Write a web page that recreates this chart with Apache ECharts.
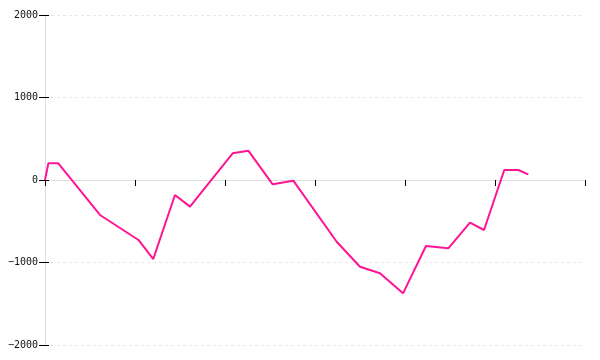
<!DOCTYPE html>
<html>
<head>
<meta charset="utf-8">
<script src="https://cdn.jsdelivr.net/npm/echarts@6/dist/echarts.min.js"></script>
<style>
html,body{margin:0;padding:0;background:#fff;}
#c{width:600px;height:360px;}
</style>
</head>
<body>
<div id="c"></div>
<script>
const xValues = [0, 0.037, 0.148, 0.611, 1.039, 1.203, 1.444, 1.611, 2.085, 2.259, 2.530, 2.759, 3.241, 3.5, 3.722, 3.978, 4.233, 4.481, 4.722, 4.878, 5.103, 5.259, 5.370];
const yValues = [0, 202, 202, -424, -727, -958, -182, -323, 323, 355, -52, -8, -748, -1051, -1131, -1374, -800, -828, -517, -606, 121, 121, 69];
const yTicks = [-2000, -1000, 0, 1000, 2000];

const chart = echarts.init(document.getElementById('c'), null, {renderer: 'canvas'});
const labelFont = {fontFamily: 'DejaVu Sans Mono', fontSize: 10, color: '#111'};
chart.setOption({
  animation: false,
  backgroundColor: '#fff',
  grid: {left: 45, right: 15, top: 15, bottom: 15, containLabel: false},
  xAxis: [
    {
      type: 'value', min: 0, max: 6, interval: 1,
      axisLine: {show: true, onZero: true, lineStyle: {color: '#ddd', width: 1}},
      axisTick: {show: true, inside: false, length: 6, lineStyle: {color: '#000', width: 1}},
      axisLabel: {show: false},
      splitLine: {show: false}
    },
    {
      type: 'value', min: 0, max: 6, interval: 1,
      axisLine: {show: false, onZero: true},
      axisTick: {show: true, inside: true, length: 3, lineStyle: {color: '#000', width: 1}},
      axisLabel: {show: false},
      splitLine: {show: false}
    }
  ],
  yAxis: [
    {
      type: 'value', min: yTicks[0], max: yTicks[yTicks.length - 1], interval: 1000,
      position: 'left',
      axisLine: {show: true, onZero: false, lineStyle: {color: '#ddd', width: 1}},
      axisTick: {show: true, inside: false, length: 6, lineStyle: {color: '#000', width: 1}},
      axisLabel: Object.assign({show: true, margin: 7, formatter: v => String(v).replace('-', '\u2212')}, labelFont),
      splitLine: {show: true, lineStyle: {color: '#e8e8e8', width: 1, type: [3, 3]}}
    },
    {
      type: 'value', min: yTicks[0], max: yTicks[yTicks.length - 1], interval: 1000,
      position: 'left', offset: 0,
      axisLine: {show: false, onZero: false},
      axisTick: {show: true, inside: true, length: 4, lineStyle: {color: '#000', width: 1}},
      axisLabel: {show: false},
      splitLine: {show: false}
    }
  ],
  series: [{
    type: 'line',
    xAxisIndex: 0, yAxisIndex: 0,
    data: xValues.map((x, i) => [x, yValues[i]]),
    showSymbol: false,
    symbol: 'none',
    lineStyle: {color: '#ff1493', width: 2},
    z: 5
  }]
});
</script>
</body>
</html>
